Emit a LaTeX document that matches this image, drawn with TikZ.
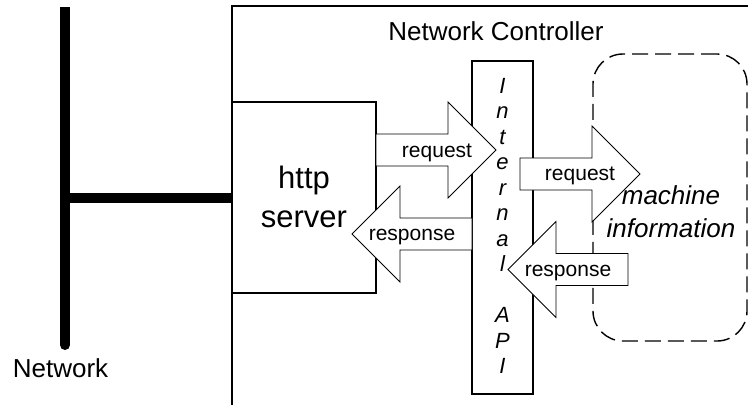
\documentclass[tikz,border=0pt]{standalone}
\usepackage{fontspec}
\setmainfont{Liberation Sans}
\begin{document}
\begin{tikzpicture}[x=1bp,y=-1bp,
  box/.style={draw, line width=1.2bp, fill=white, inner sep=0pt, outer sep=0pt, anchor=north west},
  dashbox/.style={draw, line width=1.4bp, dash pattern=on 16bp off 7bp, rounded corners=30bp, inner sep=0pt, outer sep=0pt, anchor=north west},
  blockarrow/.style={draw, line width=0.8bp, fill=white, line join=miter},
  bus/.style={line width=10bp},
  lbl/.style={inner sep=0pt, anchor=base, font=\fontsize{21bp}{25bp}\selectfont},
  big/.style={inner sep=0pt, anchor=base, font=\fontsize{26bp}{30bp}\selectfont},
  bigit/.style={inner sep=0pt, anchor=base, font=\fontsize{26bp}{30bp}\selectfont\itshape},
  huge/.style={inner sep=0pt, anchor=base, font=\fontsize{31bp}{36bp}\selectfont},
  apiletter/.style={inner sep=0pt, anchor=base, font=\fontsize{22bp}{26bp}\selectfont\itshape}]
\fill[white] (0,0) rectangle (748,404);
\useasboundingbox (0,0) rectangle (748,404);
\clip (0,0) rectangle (748,404);

% network controller frame (extends past the picture edge)
\node[box, fill=none, minimum width=600bp, minimum height=500bp] (ctrl) at (232,6) {};
\node[big] (ctrltitle) at (496,40) {Network Controller};

% boxes
\node[box, minimum width=144bp, minimum height=191bp] (http) at (232,102) {};
\node[huge] (httpA) at (304,188) {http};
\node[huge] (httpB) at (304,227) {server};

\node[box, minimum width=61bp, minimum height=333bp] (api) at (472,61) {};
\foreach \i/\c in {1/I,2/n,3/t,4/e,5/r,6/n,7/a,8/l,10/A,11/P,12/I}
  \node[apiletter] (api\i) at (502.5,{93+25.5*(\i-1)}) {\c};

\node[dashbox, minimum width=154bp, minimum height=287bp] (mach) at (593,54) {};

% network bus
\coordinate (bustop) at (65,7);
\coordinate (busbot) at (65,345);
\coordinate (busT) at (65,198);
\draw[bus] (bustop) -- (busbot);
\fill (busbot) circle (5bp);
\draw[bus] (busT) -- (busT -| http.west);

% block arrows
\coordinate (rq1) at (376,150);
\coordinate (rs1) at (472,234);
\coordinate (rq2) at (520,174);
\coordinate (rs2) at (628,269.5);
\draw[blockarrow] (rq1) ++(0,-16) -- ++(72,0) -- ++(0,-32) -- ++(48,48) -- ++(-48,48) -- ++(0,-32) -- ++(-72,0) -- cycle;
\draw[blockarrow] (rs1) ++(0,-16) -- ++(-72,0) -- ++(0,-32) -- ++(-48,48) -- ++(48,48) -- ++(0,-32) -- ++(72,0) -- cycle;
\draw[blockarrow] (rq2) ++(0,-16) -- ++(72,0) -- ++(0,-32) -- ++(48,48) -- ++(-48,48) -- ++(0,-32) -- ++(-72,0) -- cycle;
\draw[blockarrow] (rs2) ++(0,-16) -- ++(-72,0) -- ++(0,-32) -- ++(-48,48) -- ++(48,48) -- ++(0,-32) -- ++(72,0) -- cycle;

\node[lbl] (rq1l) at (437,157) {request};
\node[lbl] (rs1l) at (412,240) {response};
\node[lbl] (rq2l) at (580,180) {request};
\node[lbl] (rs2l) at (568,276) {response};

\node[bigit] (machA) at (671,204) {machine};
\node[bigit] (machB) at (671,237) {information};

\node[big] (netl) at (60.5,377) {Network};
\end{tikzpicture}
\end{document}
